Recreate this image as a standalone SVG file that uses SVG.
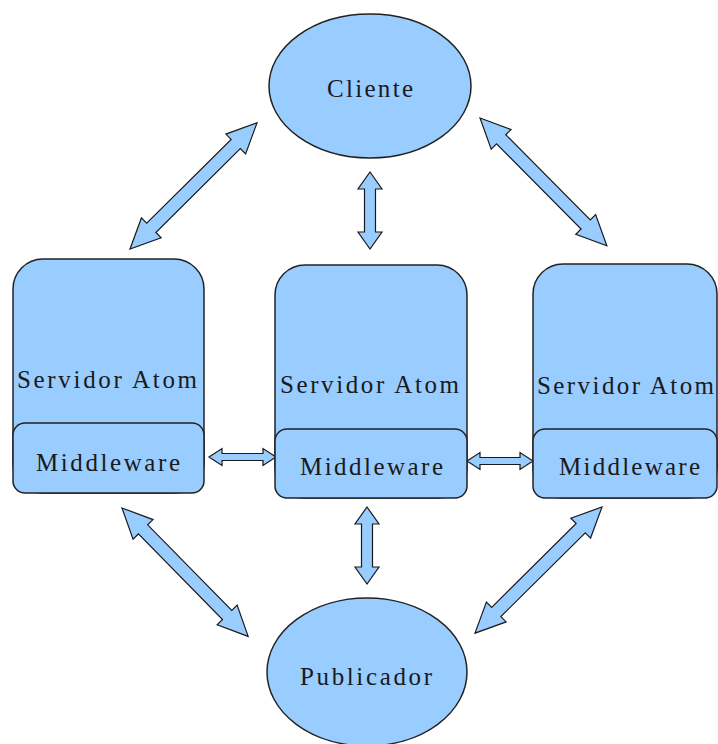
<svg xmlns="http://www.w3.org/2000/svg" width="718" height="744" viewBox="0 0 718 744">
  <style>
    .shape { fill: #99ccff; stroke: #222222; stroke-width: 1.5; }
    .arrow { fill: #99ccff; stroke: #1a1a1a; stroke-width: 1.2; stroke-linejoin: miter; }
    .label { font-family: "Liberation Serif", "Times New Roman", serif; font-size: 25px; fill: #1a1a1a; }
  </style>
  <rect x="0" y="0" width="718" height="744" fill="#ffffff"/>

  <!-- connectors: double-headed block arrows -->
  <g id="connectors">
    <!-- Cliente <-> left server -->
    <polygon class="arrow" transform="translate(130,249) rotate(-44.8)" points="0,0 30,-14 30,-6.5 149,-6.5 149,-14 179,0 149,14 149,6.5 30,6.5 30,14"/>
    <!-- Cliente <-> right server -->
    <polygon class="arrow" transform="translate(480,118) rotate(45.2)" points="0,0 30,-14 30,-6.5 150,-6.5 150,-14 180,0 150,14 150,6.5 30,6.5 30,14"/>
    <!-- Cliente <-> middle server -->
    <polygon class="arrow" points="370,172 382,189 375.5,189 375.5,232 382,232 370,249 358,232 364.5,232 364.5,189 358,189"/>
    <!-- left middleware <-> middle middleware -->
    <polygon class="arrow" points="209,457 222,448.5 222,453.5 263,453.5 263,448.5 276,457 263,465.5 263,460.5 222,460.5 222,465.5"/>
    <!-- middle middleware <-> right middleware -->
    <polygon class="arrow" points="467,461 480,452.5 480,457.5 520,457.5 520,452.5 533,461 520,469.5 520,464.5 480,464.5 480,469.5"/>
    <!-- left server <-> Publicador -->
    <polygon class="arrow" transform="translate(122,508) rotate(45.5)" points="0,0 30,-14 30,-6.5 150,-6.5 150,-14 180,0 150,14 150,6.5 30,6.5 30,14"/>
    <!-- middle server <-> Publicador -->
    <polygon class="arrow" points="367,507 379,524 372.5,524 372.5,567 379,567 367,584 355,567 361.5,567 361.5,524 355,524"/>
    <!-- right server <-> Publicador -->
    <polygon class="arrow" transform="translate(602,507) rotate(135.2)" points="0,0 30,-14 30,-6.5 149,-6.5 149,-14 179,0 149,14 149,6.5 30,6.5 30,14"/>
  </g>

  <g id="cliente">
    <ellipse class="shape" cx="370" cy="86" rx="101" ry="72"/>
    <text class="label" x="327" y="97" textLength="86" lengthAdjust="spacing">Cliente</text>
  </g>

  <g id="servidor-esquerda">
    <rect class="shape" x="13" y="259" width="191" height="234" rx="30" ry="30"/>
    <text class="label" x="17" y="388" textLength="180" lengthAdjust="spacing">Servidor Atom</text>
    <rect class="shape" x="13" y="423" width="191" height="70" rx="12" ry="12"/>
    <text class="label" x="36" y="471" textLength="144" lengthAdjust="spacing">Middleware</text>
  </g>

  <g id="servidor-centro">
    <rect class="shape" x="275" y="265" width="192" height="233" rx="30" ry="30"/>
    <text class="label" x="280" y="393" textLength="179" lengthAdjust="spacing">Servidor Atom</text>
    <rect class="shape" x="275" y="429" width="192" height="69" rx="12" ry="12"/>
    <text class="label" x="300" y="475" textLength="143" lengthAdjust="spacing">Middleware</text>
  </g>

  <g id="servidor-direita">
    <rect class="shape" x="533" y="264" width="184" height="234" rx="30" ry="30"/>
    <text class="label" x="537" y="394" textLength="177" lengthAdjust="spacing">Servidor Atom</text>
    <rect class="shape" x="533" y="429" width="184" height="69" rx="12" ry="12"/>
    <text class="label" x="559" y="475" textLength="141" lengthAdjust="spacing">Middleware</text>
  </g>

  <g id="publicador">
    <ellipse class="shape" cx="367" cy="672" rx="100" ry="74"/>
    <text class="label" x="300" y="685" textLength="132" lengthAdjust="spacing">Publicador</text>
  </g>
</svg>
